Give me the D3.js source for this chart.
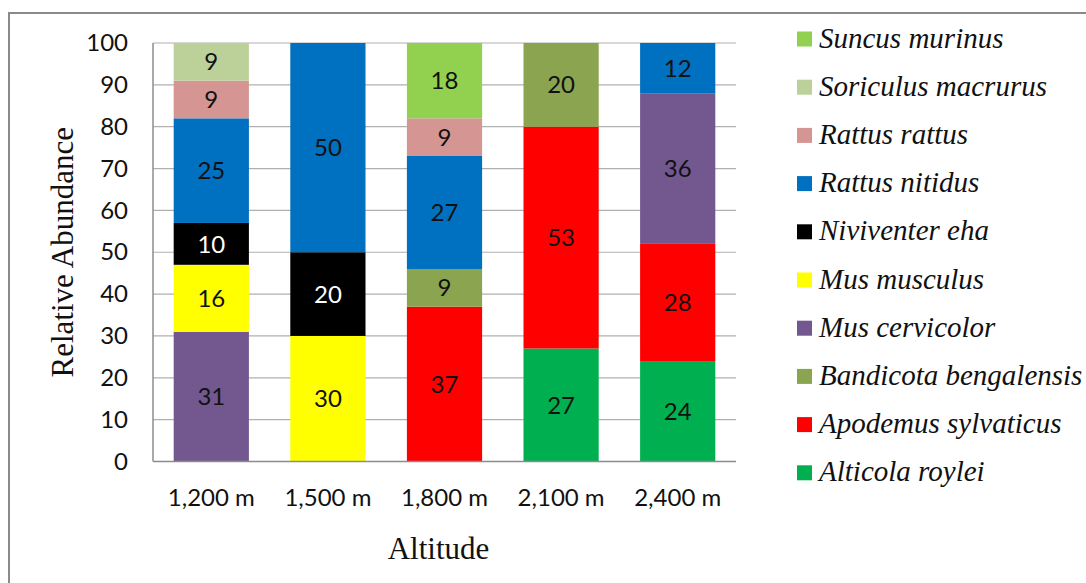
<!DOCTYPE html>
<html>
<head>
<meta charset="utf-8">
<script src="https://cdn.jsdelivr.net/npm/d3@7"></script>
<style>
  html, body { margin: 0; padding: 0; background: #fff; }
  svg { display: block; }
</style>
</head>
<body>
<svg id="chart" width="1086" height="583"></svg>
<script>
// Altitude classes along the x axis
const altitudes = ["1,200 m", "1,500 m", "1,800 m", "2,100 m", "2,400 m"];

// Relative abundance (%) of each species at each altitude, bottom of stack first
const alticolaRoylei       = [0, 0, 0, 27, 24];
const apodemusSylvaticus   = [0, 0, 37, 53, 28];
const bandicotaBengalensis = [0, 0, 9, 20, 0];
const musCervicolor        = [31, 0, 0, 0, 36];
const musMusculus          = [16, 30, 0, 0, 0];
const niviventerEha        = [10, 20, 0, 0, 0];
const rattusNitidus        = [25, 50, 27, 0, 12];
const rattusRattus         = [9, 0, 9, 0, 0];
const soriculusMacrurus    = [9, 0, 0, 0, 0];
const suncusMurinus        = [0, 0, 18, 0, 0];

const speciesNames = [
  "Alticola roylei", "Apodemus sylvaticus", "Bandicota bengalensis",
  "Mus cervicolor", "Mus musculus", "Niviventer eha", "Rattus nitidus",
  "Rattus rattus", "Soriculus macrurus", "Suncus murinus"
];
const speciesValues = [
  alticolaRoylei, apodemusSylvaticus, bandicotaBengalensis, musCervicolor,
  musMusculus, niviventerEha, rattusNitidus, rattusRattus,
  soriculusMacrurus, suncusMurinus
];
const speciesColors = [
  "#00B050", "#FF0000", "#8BA450", "#72588F", "#FFFF00",
  "#000000", "#0070C0", "#D49593", "#BCD19A", "#92D050"
];
const labelColors = [
  "#111", "#111", "#111", "#111", "#111",
  "#ffffff", "#111", "#111", "#111", "#111"
];

const yTicks = [0, 10, 20, 30, 40, 50, 60, 70, 80, 90, 100];

// Rows for d3.stack: one object per altitude
const rows = altitudes.map((alt, i) => {
  const r = { altitude: alt };
  speciesNames.forEach((s, k) => { r[s] = speciesValues[k][i]; });
  return r;
});

const sans = "Lato, 'Open Sans', sans-serif";
const serif = "'Liberation Serif', 'Times New Roman', serif";

const svg = d3.select("#chart");

// Chart frame
svg.append("rect")
  .attr("x", 9).attr("y", 13)
  .attr("width", 1100).attr("height", 600)
  .attr("fill", "none")
  .attr("stroke", "#8a8a8a")
  .attr("stroke-width", 2);

const plot = { left: 153, right: 736, top: 43, bottom: 461.5 };

const x = d3.scaleBand()
  .domain(altitudes)
  .range([plot.left, plot.right])
  .paddingInner(0.355)
  .paddingOuter(0.1775);

const y = d3.scaleLinear()
  .domain([0, 100])
  .range([plot.bottom, plot.top]);

const color = d3.scaleOrdinal().domain(speciesNames).range(speciesColors);
const labelColor = d3.scaleOrdinal().domain(speciesNames).range(labelColors);

// Horizontal gridlines
svg.append("g")
  .selectAll("line")
  .data(yTicks)
  .join("line")
  .attr("x1", plot.left).attr("x2", plot.right)
  .attr("y1", d => y(d)).attr("y2", d => y(d))
  .attr("stroke", "#b0b0b0")
  .attr("stroke-width", 1.2);

// Stacked bars
const series = d3.stack().keys(speciesNames)(rows);

const layers = svg.append("g")
  .selectAll("g")
  .data(series)
  .join("g")
  .attr("fill", d => color(d.key));

layers.selectAll("rect")
  .data(d => d.filter(p => p[1] - p[0] > 0))
  .join("rect")
  .attr("x", d => x(d.data.altitude))
  .attr("width", x.bandwidth())
  .attr("y", d => y(d[1]))
  .attr("height", d => y(d[0]) - y(d[1]));

// Value labels centred in each segment
const labels = svg.append("g")
  .attr("font-family", sans)
  .attr("font-size", 24)
  .attr("text-anchor", "middle");

series.forEach(s => {
  s.forEach(p => {
    const v = p[1] - p[0];
    if (v <= 0) return;
    labels.append("text")
      .attr("x", x(p.data.altitude) + x.bandwidth() / 2)
      .attr("y", y((p[0] + p[1]) / 2))
      .attr("dy", "0.36em")
      .attr("fill", labelColor(s.key))
      .text(v);
  });
});

// Left axis line
svg.append("line")
  .attr("x1", plot.left).attr("x2", plot.left)
  .attr("y1", plot.top).attr("y2", plot.bottom)
  .attr("stroke", "#8c8c8c").attr("stroke-width", 1.5);

// Bottom axis line
svg.append("line")
  .attr("x1", plot.left).attr("x2", plot.right)
  .attr("y1", plot.bottom).attr("y2", plot.bottom)
  .attr("stroke", "#8c8c8c").attr("stroke-width", 1.5);

// Y axis tick labels
const yAxis = d3.axisLeft(y).tickValues(yTicks).tickSize(0).tickPadding(25);
const gy = svg.append("g")
  .attr("transform", `translate(${plot.left},0)`)
  .call(yAxis);
gy.select(".domain").remove();
gy.selectAll("text")
  .attr("font-family", sans)
  .attr("font-size", 24)
  .attr("fill", "#111");

// X axis tick labels
const xAxis = d3.axisBottom(x).tickSize(0).tickPadding(0);
const gx = svg.append("g")
  .attr("transform", `translate(0,${plot.bottom})`)
  .call(xAxis);
gx.select(".domain").remove();
gx.selectAll("text")
  .attr("dy", null)
  .attr("y", 44.5)
  .attr("font-family", sans)
  .attr("font-size", 24)
  .attr("fill", "#111");

// Axis titles
svg.append("text")
  .attr("x", (plot.left + plot.right) / 2 - 6)
  .attr("y", 559)
  .attr("text-anchor", "middle")
  .attr("font-family", serif)
  .attr("font-size", 31)
  .attr("fill", "#111")
  .text("Altitude");

svg.append("text")
  .attr("transform", `translate(73,${(plot.top + plot.bottom) / 2}) rotate(-90)`)
  .attr("text-anchor", "middle")
  .attr("font-family", serif)
  .attr("font-size", 31)
  .attr("fill", "#111")
  .text("Relative Abundance");

// Legend, top entry is the top of the stack
const legendOrder = speciesNames.slice().reverse();
const legend = svg.append("g")
  .selectAll("g")
  .data(legendOrder)
  .join("g")
  .attr("transform", (d, i) => `translate(797,${39 + i * 48.2})`);

legend.append("rect")
  .attr("x", 0).attr("y", -7.5)
  .attr("width", 15).attr("height", 15)
  .attr("fill", d => color(d));

legend.append("text")
  .attr("x", 22)
  .attr("y", 8.5)
  .attr("font-family", serif)
  .attr("font-style", "italic")
  .attr("font-size", 29)
  .attr("fill", "#111")
  .text(d => d);
</script>
</body>
</html>
